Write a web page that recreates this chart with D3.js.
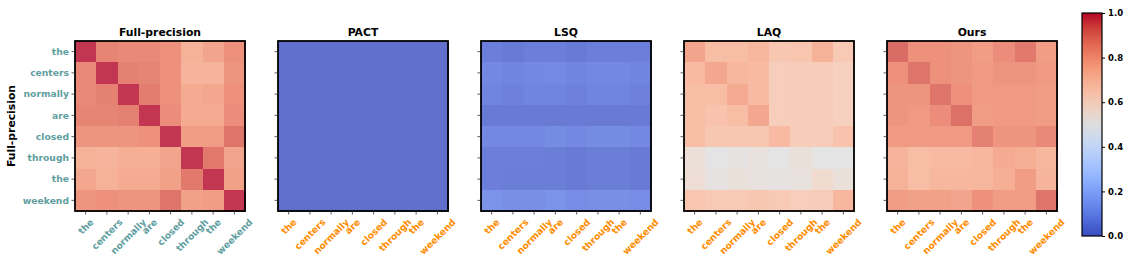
<!DOCTYPE html>
<html>
<head>
<meta charset="utf-8" />
<title>Attention similarity heatmaps</title>
<style>
  body { margin: 0; background: white; }
  text { font-family: "DejaVu Sans", sans-serif; font-weight: bold; }
</style>
<script src="https://cdnjs.cloudflare.com/ajax/libs/d3/7.8.5/d3.min.js"></script>
</head>
<body>
<script>
// tokens on both axes
var tokens = ["the", "centers", "normally", "are", "closed", "through", "the", "weekend"];
var panelTitles = ["Full-precision", "PACT", "LSQ", "LAQ", "Ours"];
var cbTicks = [0.0, 0.2, 0.4, 0.6, 0.8, 1.0];

var fullPrecision = [
  [1.00, 0.86, 0.85, 0.85, 0.83, 0.74, 0.78, 0.83],
  [0.85, 1.00, 0.87, 0.86, 0.83, 0.73, 0.73, 0.82],
  [0.85, 0.87, 1.00, 0.88, 0.83, 0.76, 0.77, 0.83],
  [0.86, 0.86, 0.87, 1.00, 0.84, 0.76, 0.76, 0.84],
  [0.82, 0.82, 0.82, 0.83, 1.00, 0.80, 0.80, 0.90],
  [0.74, 0.73, 0.75, 0.75, 0.78, 1.00, 0.89, 0.78],
  [0.77, 0.74, 0.76, 0.76, 0.79, 0.89, 1.00, 0.79],
  [0.82, 0.83, 0.82, 0.82, 0.90, 0.79, 0.80, 1.00]
];
var pact = [
  [0, 0, 0, 0, 0, 0, 0, 0],
  [0, 0, 0, 0, 0, 0, 0, 0],
  [0, 0, 0, 0, 0, 0, 0, 0],
  [0, 0, 0, 0, 0, 0, 0, 0],
  [0, 0, 0, 0, 0, 0, 0, 0],
  [0, 0, 0, 0, 0, 0, 0, 0],
  [0, 0, 0, 0, 0, 0, 0, 0],
  [0, 0, 0, 0, 0, 0, 0, 0]
];
var lsq = [
  [0.04, 0.03, 0.04, 0.04, 0.03, 0.04, 0.04, 0.04],
  [0.07, 0.06, 0.07, 0.075, 0.06, 0.07, 0.07, 0.06],
  [0.06, 0.05, 0.06, 0.06, 0.05, 0.06, 0.06, 0.05],
  [0.03, 0.03, 0.03, 0.03, 0.03, 0.03, 0.03, 0.03],
  [0.07, 0.07, 0.07, 0.08, 0.07, 0.08, 0.08, 0.07],
  [0.04, 0.04, 0.04, 0.035, 0.03, 0.035, 0.035, 0.03],
  [0.04, 0.035, 0.035, 0.035, 0.03, 0.035, 0.035, 0.03],
  [0.10, 0.09, 0.09, 0.10, 0.085, 0.09, 0.09, 0.085]
];
var laq = [
  [0.78, 0.70, 0.70, 0.72, 0.66, 0.67, 0.74, 0.65],
  [0.71, 0.77, 0.72, 0.71, 0.63, 0.64, 0.64, 0.62],
  [0.70, 0.70, 0.76, 0.71, 0.63, 0.64, 0.64, 0.62],
  [0.70, 0.68, 0.70, 0.77, 0.63, 0.64, 0.64, 0.62],
  [0.70, 0.66, 0.66, 0.66, 0.71, 0.64, 0.64, 0.68],
  [0.54, 0.50, 0.51, 0.52, 0.50, 0.53, 0.50, 0.50],
  [0.55, 0.51, 0.53, 0.52, 0.51, 0.52, 0.57, 0.53],
  [0.67, 0.65, 0.65, 0.66, 0.65, 0.63, 0.64, 0.72]
];
var ours = [
  [0.92, 0.83, 0.83, 0.82, 0.80, 0.84, 0.89, 0.80],
  [0.83, 0.90, 0.83, 0.82, 0.81, 0.82, 0.82, 0.81],
  [0.82, 0.82, 0.90, 0.83, 0.81, 0.81, 0.81, 0.80],
  [0.82, 0.81, 0.84, 0.91, 0.80, 0.81, 0.81, 0.80],
  [0.81, 0.81, 0.81, 0.81, 0.87, 0.82, 0.82, 0.85],
  [0.73, 0.70, 0.71, 0.71, 0.72, 0.76, 0.75, 0.72],
  [0.74, 0.70, 0.72, 0.72, 0.72, 0.75, 0.80, 0.73],
  [0.80, 0.79, 0.79, 0.78, 0.83, 0.80, 0.80, 0.90]
];
var matrices = [fullPrecision, pact, lsq, laq, ours];

// matplotlib coolwarm, sampled
var coolwarmStops = [
  [59,76,192],[77,104,215],[98,130,234],[119,154,247],[141,176,254],
  [163,194,255],[184,208,249],[204,217,238],[221,221,221],[236,211,197],
  [245,196,173],[247,177,148],[244,154,123],[236,127,99],[222,96,77],
  [203,62,56],[180,4,38]
];
var coolwarm = d3.piecewise(d3.interpolateRgb, coolwarmStops.map(c => d3.rgb(c[0], c[1], c[2])));
// heatmaps are drawn with alpha 0.8 over white
var cellColor = v => d3.interpolateRgb("#ffffff", coolwarm(v))(0.8);

var width = 1136, height = 264;
var size = 170, plotTop = 41, left0 = 75, step = 203;
var teal = "#5f9ea0", orange = "#ff8c00";

var svg = d3.select("body").append("svg")
    .attr("width", width)
    .attr("height", height);

var band = d3.scaleBand().domain(d3.range(tokens.length)).range([0, size]);

matrices.forEach(function(m, p) {
  var g = svg.append("g")
      .attr("transform", "translate(" + (left0 + p * step) + "," + plotTop + ")");

  var cells = [];
  m.forEach((row, r) => row.forEach((v, c) => cells.push({r: r, c: c, v: v})));

  g.selectAll("rect.cell")
    .data(cells)
    .enter().append("rect")
      .attr("x", d => band(d.c))
      .attr("y", d => band(d.r))
      .attr("width", band.bandwidth() + 0.6)
      .attr("height", band.bandwidth() + 0.6)
      .attr("shape-rendering", "crispEdges")
      .attr("fill", d => cellColor(d.v));

  g.append("rect")
      .attr("width", size).attr("height", size)
      .attr("fill", "none").attr("stroke", "#000").attr("stroke-width", 1.8);

  g.append("text")
      .attr("x", size / 2).attr("y", -5)
      .attr("text-anchor", "middle")
      .style("font-size", "10.8px")
      .text(panelTitles[p]);

  // tick marks
  g.selectAll("line.yt").data(tokens).enter().append("line")
      .attr("x1", -3.5).attr("x2", 0)
      .attr("y1", (d, i) => band(i) + band.bandwidth() / 2)
      .attr("y2", (d, i) => band(i) + band.bandwidth() / 2)
      .attr("stroke", "#333").attr("stroke-width", 0.8);
  g.selectAll("line.xt").data(tokens).enter().append("line")
      .attr("y1", size).attr("y2", size + 3.5)
      .attr("x1", (d, i) => band(i) + band.bandwidth() / 2)
      .attr("x2", (d, i) => band(i) + band.bandwidth() / 2)
      .attr("stroke", "#333").attr("stroke-width", 0.8);

  var labelColor = p === 0 ? teal : orange;

  if (p === 0) {
    g.selectAll("text.yl").data(tokens).enter().append("text")
        .attr("x", -6)
        .attr("y", (d, i) => band(i) + band.bandwidth() / 2)
        .attr("dy", "0.35em")
        .attr("text-anchor", "end")
        .attr("fill", teal)
        .style("font-size", "9.2px")
        .text(d => d);
  }

  // rotated x labels, bbox centred on the tick like matplotlib rotation=45
  g.selectAll("text.xl").data(tokens).enter().append("text")
      .attr("text-anchor", "middle")
      .attr("dominant-baseline", "central")
      .attr("fill", labelColor)
      .style("font-size", "9.2px")
      .text(d => d)
      .attr("transform", function(d, i) {
        var w = this.getComputedTextLength(), h = 9.2;
        var half = (w + h) / (2 * Math.SQRT2);
        var cx = band(i) + band.bandwidth() / 2;
        return "translate(" + cx + "," + (size + 6 + half) + ") rotate(-45)";
      });
});

// y axis title
svg.append("text")
    .attr("transform", "translate(15," + (plotTop + size / 2) + ") rotate(-90)")
    .attr("text-anchor", "middle")
    .style("font-size", "10.8px")
    .text("Full-precision");

// colorbar
var cbX = 1082, cbW = 20, cbTop = 13, cbBottom = 236;
var cbScale = d3.scaleLinear().domain([0, 1]).range([cbBottom, cbTop]);
var defs = svg.append("defs");
var grad = defs.append("linearGradient").attr("id", "cw")
    .attr("x1", 0).attr("y1", 1).attr("x2", 0).attr("y2", 0);
grad.selectAll("stop").data(d3.range(0, 1.0001, 0.05)).enter().append("stop")
    .attr("offset", d => d)
    .attr("stop-color", d => coolwarm(d));

svg.append("rect")
    .attr("x", cbX).attr("y", cbTop)
    .attr("width", cbW).attr("height", cbBottom - cbTop)
    .attr("fill", "url(#cw)")
    .attr("stroke", "#000").attr("stroke-width", 1.2);

var cbAxis = d3.axisRight(cbScale).tickValues(cbTicks).tickFormat(d3.format(".1f")).tickSize(3);
var cbg = svg.append("g")
    .attr("transform", "translate(" + (cbX + cbW) + ",0)")
    .call(cbAxis);
cbg.select(".domain").remove();
cbg.selectAll("text")
    .attr("fill", "#000")
    .style("font-family", "DejaVu Sans")
    .style("font-weight", "bold")
    .style("font-size", "8.5px");
</script>
</body>
</html>
